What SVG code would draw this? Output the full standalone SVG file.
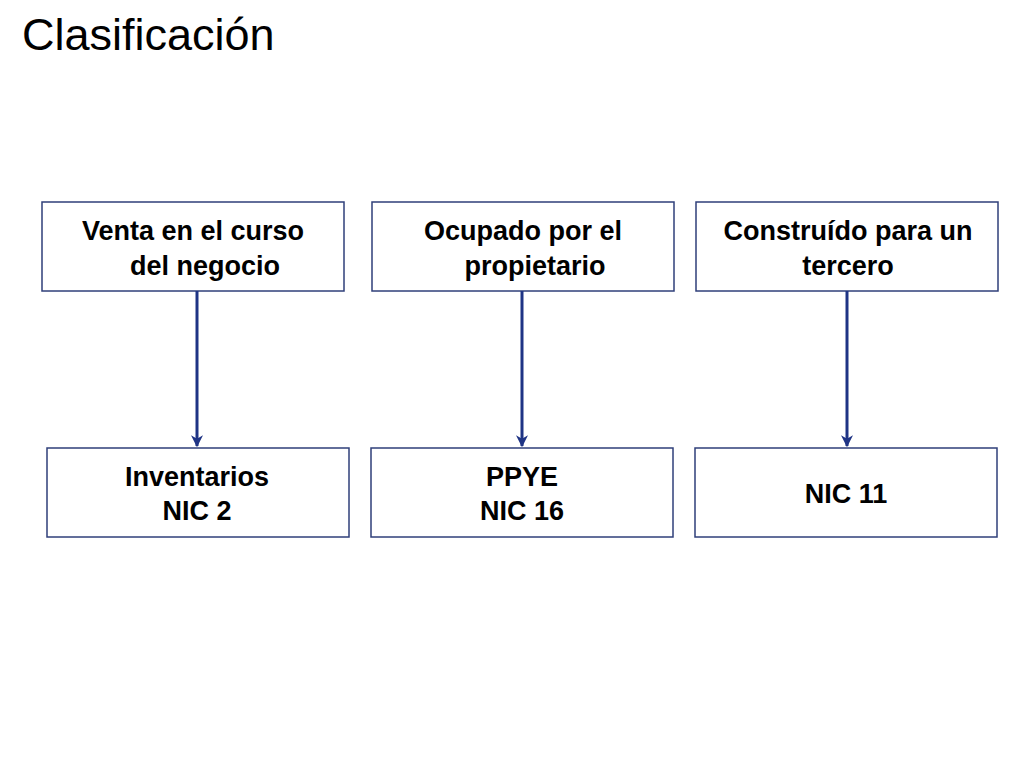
<svg xmlns="http://www.w3.org/2000/svg" width="1024" height="768" viewBox="0 0 1024 768">
<style>
.b{fill:#fff;stroke:#2f3f7a;stroke-width:1.5}
.t{font-family:"Liberation Sans",Arial,sans-serif;font-weight:bold;font-size:27px;fill:#000;text-anchor:middle}
.c{stroke:#1f3485;stroke-width:3;fill:none;marker-end:url(#a)}
</style>
<defs><marker id="a" viewBox="0 0 10 10" refX="9" refY="5" markerWidth="4" markerHeight="5" orient="auto" markerUnits="strokeWidth"><path d="M0,0 L10,5 L0,10 L3,5 Z" fill="#1f3485"/></marker></defs>
<rect width="1024" height="768" fill="#fff"/>
<text x="22" y="50" font-family="Liberation Sans,Arial,sans-serif" font-size="45" fill="#000">Clasificación</text>
<g id="n1"><rect class="b" x="42" y="202" width="302" height="89"/><text class="t" x="193" y="240">Venta en el curso</text><text class="t" x="205" y="275">del negocio</text></g>
<g id="n2"><rect class="b" x="372" y="202" width="302" height="89"/><text class="t" x="523" y="240">Ocupado por el</text><text class="t" x="535" y="275">propietario</text></g>
<g id="n3"><rect class="b" x="696" y="202" width="302" height="89"/><text class="t" x="848" y="240">Construído para un</text><text class="t" x="848" y="275">tercero</text></g>
<g id="n4"><rect class="b" x="47" y="448" width="302" height="89"/><text class="t" x="197" y="486">Inventarios</text><text class="t" x="197" y="520">NIC 2</text></g>
<g id="n5"><rect class="b" x="371" y="448" width="302" height="89"/><text class="t" x="522" y="486">PPYE</text><text class="t" x="522" y="520">NIC 16</text></g>
<g id="n6"><rect class="b" x="695" y="448" width="302" height="89"/><text class="t" x="846" y="503">NIC 11</text></g>
<g id="connectors">
<line class="c" x1="197" y1="291" x2="197" y2="446"/>
<line class="c" x1="522" y1="291" x2="522" y2="446"/>
<line class="c" x1="847" y1="291" x2="847" y2="446"/>
</g>
</svg>
